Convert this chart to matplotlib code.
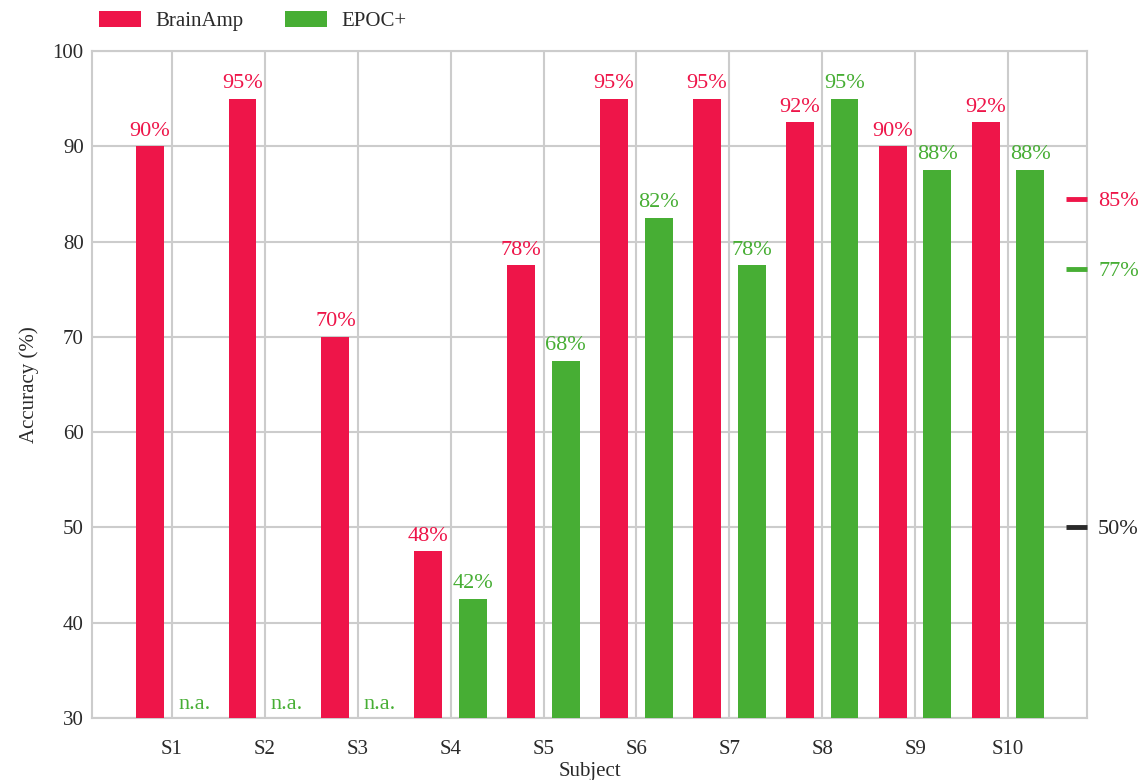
import numpy as np
import matplotlib.pyplot as plt

plt.rcParams['font.family'] = ['Liberation Serif', 'DejaVu Serif']

subjects = ['S1', 'S2', 'S3', 'S4', 'S5', 'S6', 'S7', 'S8', 'S9', 'S10']
brainamp = [90, 95, 70, 47.5, 77.5, 95, 95, 92.5, 90, 92.5]
epoc = [np.nan, np.nan, np.nan, 42.5, 67.5, 82.5, 77.5, 95, 87.5, 87.5]
chance = 50

red = '#ee1549'
green = '#47ae34'
grid = '#cccccc'
txt = '#2a2a2a'

fig = plt.figure(figsize=(11.44, 7.8), dpi=100)
ax = fig.add_axes([92 / 1144, 1 - 718 / 780, (1087 - 92) / 1144, (718 - 51) / 780])

x = np.arange(len(subjects))
w = 0.30
off = 0.24
ax.bar(x - off, brainamp, w, color=red, label='BrainAmp', zorder=3)
ax.bar(x + off, np.nan_to_num(epoc, nan=0), w, color=green, label='EPOC+', zorder=3)

for i in range(len(subjects)):
    ax.text(x[i] - off, brainamp[i] + 0.6, f'{round(brainamp[i])}%', color=red,
            ha='center', va='bottom', fontsize=16)
    if np.isnan(epoc[i]):
        ax.text(x[i] + off, 30.4, 'n.a.', color=green, ha='center', va='bottom', fontsize=16)
    else:
        ax.text(x[i] + off, epoc[i] + 0.6, f'{round(epoc[i])}%', color=green,
                ha='center', va='bottom', fontsize=16)

ax.set_ylim(30, 100)
ax.set_xlim(-0.86, 9.85)
ax.set_xticks(x)
ax.set_xticklabels(subjects)
ax.set_yticks(np.arange(30, 101, 10))
ax.grid(True, color=grid, linewidth=1.5, zorder=0)
ax.set_axisbelow(True)
for s in ax.spines.values():
    s.set_color(grid)
    s.set_linewidth(1.5)
ax.tick_params(length=0, labelsize=15, colors=txt)
ax.tick_params(axis='x', pad=16)
ax.tick_params(axis='y', pad=6)
ax.set_xlabel('Subject', fontsize=15, color=txt, labelpad=2)
ax.set_ylabel('Accuracy (%)', fontsize=15, color=txt, labelpad=10)

# mean markers on the right
means = [np.mean(brainamp), np.nanmean(epoc), chance]
mcols = [red, green, txt]
ax2 = ax.twinx()
ax2.set_ylim(ax.get_ylim())
ax2.set_yticks(means)
ax2.set_yticklabels([f'{int(m + 0.5)}%' for m in means])
ax2.tick_params(axis='y', direction='in', length=15, width=3.5, labelsize=16, pad=8)
for t, c, lab in zip(ax2.yaxis.get_major_ticks(), mcols, ax2.get_yticklabels()):
    t.tick2line.set_markeredgecolor(c)
    t.tick2line.set_color(c)
    lab.set_color(c)
for s in ax2.spines.values():
    s.set_visible(False)
ax2.grid(False)

ax.legend(loc='center left', bbox_to_anchor=(0.007, 1 + 30 / 667), ncol=2, frameon=False,
          fontsize=15, handlelength=2.0, handleheight=0.8, handletextpad=0.7,
          columnspacing=2.0, borderaxespad=0.0, borderpad=0.0, labelcolor=txt)

fig.savefig('out.png', dpi=100)
